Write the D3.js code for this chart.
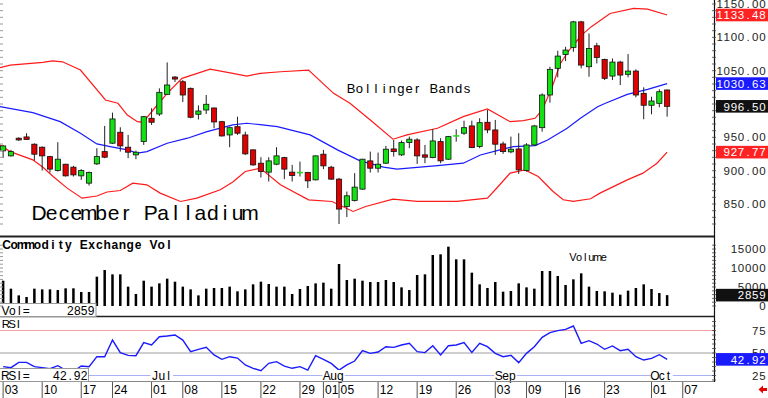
<!DOCTYPE html>
<html>
<head>
<meta charset="utf-8">
<script src="https://cdn.jsdelivr.net/npm/d3@7"></script>
<style>
  body { margin: 0; background: #fff; }
  svg { display: block; }
  text { font-family: "Liberation Sans", Arial, sans-serif; }
</style>
</head>
<body>
<svg id="chart" width="768" height="398"></svg>
<script>
// daily candles, Jun 3 .. Oct 3 (trading days)
const opens = [929.7,922.2,948.7,950.6,939.7,935.2,921.1,900.2,909.7,905.2,
  892.2,881.3,910.2,928.6,941.2,957.6,935.2,923.7,943.6,978.6,
  985.0,1014.5,1040.4,1033.4,1023.5,984.6,991.0,994.0,973.5,953.6,
  966.0,953.6,931.2,911.2,897.8,909.7,919.6,897.8,896.7,897.2,
  886.2,924.7,905.2,887.3,846.3,855.3,872.3,914.7,903.7,911.2,
  932.6,923.7,942.1,946.1,923.7,919.6,943.6,917.2,951.4,956.2,
  967.1,936.1,972.6,961.1,940.1,928.2,932.6,900.2,938.6,964.5,
  1013.5,1053.5,1074.4,1084.9,1123.2,1055.9,1087.3,1066.9,1041.9,1062.9,
  1044.5,1049.4,1016.0,998.1,1001.0,1021.0];
const highs = [938.6,931.2,950.2,956.2,940.9,936.4,922.2,942.7,910.2,907.2,
  902.3,898.7,933.7,967.1,987.0,965.1,953.6,930.1,982.0,993.6,
  1023.5,1062.4,1041.9,1035.9,1024.7,997.8,1013.5,994.8,974.6,966.0,
  981.0,958.5,931.9,920.2,920.2,935.2,920.7,908.7,913.6,898.2,
  922.9,931.2,907.2,889.2,868.7,896.3,917.7,928.6,927.1,937.1,
  946.1,945.1,951.1,948.7,938.6,962.1,948.7,952.1,962.1,975.0,
  975.0,978.6,991.0,976.1,943.6,951.1,956.2,941.2,968.6,1016.0,
  1055.9,1079.8,1085.8,1124.7,1124.7,1105.8,1091.8,1068.1,1068.4,1064.8,
  1074.9,1052.0,1025.0,1010.9,1022.0,1021.7];
const lows = [919.2,921.1,944.6,946.1,915.1,900.2,897.2,898.7,891.2,891.2,
  886.2,877.7,908.7,918.7,940.1,928.6,918.7,917.2,938.6,968.6,
  982.0,1013.5,1033.0,1003.0,978.6,976.8,985.0,963.6,951.1,935.2,
  953.6,923.7,907.2,889.7,883.7,908.2,887.3,883.7,891.2,873.8,
  885.5,902.3,886.2,819.9,830.4,853.8,871.3,897.2,897.2,910.2,
  921.1,922.2,933.7,910.2,911.2,918.7,911.2,916.2,943.6,953.6,
  933.7,933.7,956.2,923.7,925.2,926.2,895.2,898.7,937.6,958.5,
  1002.0,1040.0,1064.4,1078.3,1053.5,1040.9,1060.9,1035.9,1035.9,1028.5,
  1040.0,1010.0,977.1,984.6,995.1,981.0];
const closes = [937.1,928.6,946.1,946.9,924.7,922.2,902.3,917.2,892.2,893.7,
  900.2,897.2,921.1,920.2,977.6,937.1,927.7,927.7,981.0,972.6,
  1017.5,1028.5,1037.4,1013.5,980.1,989.5,999.6,973.1,952.1,964.5,
  956.2,925.2,908.7,898.7,914.7,922.2,902.3,892.7,897.5,884.7,
  922.2,907.2,887.3,842.4,862.3,875.3,917.2,903.7,909.7,932.2,
  928.6,942.1,947.2,922.2,920.2,944.6,914.7,951.1,952.9,964.5,
  934.6,972.0,961.1,939.7,928.6,932.2,901.2,938.6,967.1,1013.5,
  1052.0,1071.9,1080.9,1123.2,1058.4,1083.4,1069.9,1038.5,1062.9,1043.4,
  1049.4,1013.5,998.1,1004.5,1018.4,996.5];

const volumes = [6660,4560,2800,2370,4560,4380,4380,4200,4650,4650,
  3680,3680,7720,9470,8330,8330,5090,3160,6660,5090,
  5960,7190,6400,5090,4380,2800,4560,4740,4740,5090,
  3860,4380,5700,6400,5790,5090,5090,3160,4470,5260,
  5960,6140,4560,11050,6840,7190,6660,6320,6320,6840,
  6320,4910,4200,8160,8330,13420,13600,15610,12280,12280,
  8770,5700,4740,6320,3770,3950,5960,4910,4560,9210,
  9210,7890,5530,7020,8600,5090,3950,3860,3510,2980,
  4040,4740,5700,4470,3420,2859];

const rsi = [34.8,33.7,39.6,39.6,34.8,33.7,32.6,35.9,31.0,29.3,
  35.5,34.8,45.9,45.9,64.4,50.4,47.4,47.0,61.5,58.9,
  68.1,68.9,70.0,64.4,51.5,54.1,56.3,47.8,43.0,45.9,
  44.4,36.7,33.0,30.4,38.5,40.4,35.5,33.0,34.8,31.0,
  47.0,43.0,38.5,31.0,36.7,41.1,52.6,49.6,51.1,57.0,
  56.3,58.9,60.7,51.5,50.4,58.1,47.8,58.1,58.9,61.5,
  50.7,60.7,57.0,49.6,45.9,47.4,39.3,49.6,57.0,67.4,
  72.6,74.8,76.3,80.0,60.7,63.7,60.0,54.1,57.8,52.6,
  54.1,45.9,42.2,44.1,48.1,42.92];

// bollinger bands as [day index, price]
const upperBand = [[-0.4,1054.4],[0.9,1058.4],[5.1,1062.4],[6.3,1064.8],[7.6,1063.3],[9.9,1050.9],
  [13.1,1006.0],[14.7,1001.1],[15.9,983.5],[17.2,973.5],[17.9,972.6],[19.2,991.0],[21.0,1016.0],
  [22.9,1038.5],[26.5,1052.4],[29.4,1046.0],[31.2,1041.9],[32.9,1046.0],[35.5,1048.4],[39.1,1050.9],
  [42.3,1016.0],[44.4,1001.1],[47.0,976.1],[49.9,947.2],[51.7,953.6],[55.6,963.6],[58.9,981.0],
  [62.0,992.5],[64.9,973.5],[66.6,975.0],[68.1,978.6],[69.0,991.0],[70.3,1026],[71.3,1060],
  [72.3,1078],[73.3,1093],[74.3,1106],[75.3,1116],[76.3,1124],[77.7,1135.8],[80.7,1143.3],
  [82.5,1142.2],[85,1133.48]];
const middleBand = [[-0.4,996.0],[3.8,987.0],[7.3,973.5],[9.9,956.2],[12.0,940.1],[13.7,936.1],
  [15.9,931.2],[17.2,926.2],[18.4,928.6],[21.0,941.2],[23.6,948.7],[26.1,958.5],[29.4,968.6],
  [31.2,971.1],[32.9,969.0],[35.1,966.0],[39.3,953.6],[42.8,931.2],[45.7,914.7],[48.7,905.2],
  [50.4,902.3],[55.6,907.7],[58.9,911.2],[61.1,923.5],[63.6,931.2],[65.3,936.1],[68.1,937.6],
  [69.7,946.1],[72.2,963.6],[73.9,978.6],[76.1,996.0],[77.1,1001.1],[79.9,1014.5],[82.5,1022.0],
  [85.0,1030.63]];
const lowerBand = [[-0.4,938.6],[0.9,928.6],[3.8,916.2],[5.1,905],[6.4,891.2],[8.2,873.8],
  [10.1,858.8],[12.0,862],[13.3,868],[15.0,870.2],[16.6,881.3],[18.4,878.8],[20.1,866.3],
  [22.7,853.8],[24.8,858.8],[27.8,871.3],[29.4,883],[31.0,898.7],[32.9,903.8],[35.5,878.8],
  [39.1,856.3],[42.1,853.8],[44.8,838.8],[46.4,846.3],[49.9,857.3],[53.0,853.8],[58.1,853.8],
  [62.0,858.8],[63.2,874],[64.9,896.3],[66.8,901.2],[68.5,891.2],[70.4,868.8],[71.7,856.3],
  [73.0,853.8],[75.2,857.8],[76.4,866.3],[79.9,886.2],[81.9,896.3],[83.7,911.2],[85.0,927.77]];

const dateIdx = [0,5,10,14,19,23,28,33,38,41,43,48,53,58,63,67,72,77,83,87];
const dateLabels = ['03','10','17','24','01','08','15','22','29','01','05','12','19','26','03','09','16','23','01','07'];
const monthIdx = [19,41,63,83];
const monthLabels = ['Jul','Aug','Sep','Oct'];

const priceTicks = [850,900,950,1000,1050,1100,1150];
const volTicks = [0,5000,10000,15000];
const rsiTicks = [25,50,75];

// ---------------------------------------------------------------
const plotRight = 714;
const svg = d3.select('#chart');

const x = d3.scaleLinear().domain([-0.4, 91]).range([0, plotRight]);
const yP = d3.scaleLinear().domain([850, 1150]).range([204, 4]);
const yV = d3.scaleLinear().domain([0, 15000]).range([306, 249]);
const yR = d3.scaleLinear().domain([25, 75]).range([375.5, 330.5]);

// text with a fixed advance per character
function mono(g, str, x0, y0, adv, anchor) {
  const n = str.length;
  const t = g.append('text').attr('y', y0).attr('text-anchor', 'middle');
  t.selectAll('tspan').data(str.split('')).join('tspan')
    .attr('x', (c, k) => anchor === 'end' ? x0 - adv * (n - k - 0.5) : x0 + adv * (k + 0.5))
    .text(c => c);
  return t;
}

const defs = svg.append('defs');
defs.append('clipPath').attr('id', 'clipPrice').append('rect')
  .attr('x', 0).attr('y', 0).attr('width', plotRight).attr('height', 236);
defs.append('clipPath').attr('id', 'clipRsi').append('rect')
  .attr('x', 0).attr('y', 317).attr('width', plotRight).attr('height', 64);

// ---- price panel
const gPrice = svg.append('g').attr('clip-path', 'url(#clipPrice)');

const bandLine = d3.line().x(d => x(d[0])).y(d => yP(d[1]));
gPrice.append('path').attr('d', bandLine(upperBand)).attr('fill', 'none').attr('stroke', '#ff1a1a').attr('stroke-width', 1.2);
gPrice.append('path').attr('d', bandLine(lowerBand)).attr('fill', 'none').attr('stroke', '#ff1a1a').attr('stroke-width', 1.2);
gPrice.append('path').attr('d', bandLine(middleBand)).attr('fill', 'none').attr('stroke', '#1a1aff').attr('stroke-width', 1.2);

const candle = gPrice.selectAll('g.candle').data(d3.range(opens.length)).join('g').attr('class', 'candle');
candle.append('line')
  .attr('x1', i => x(i)).attr('x2', i => x(i))
  .attr('y1', i => yP(highs[i])).attr('y2', i => yP(lows[i]))
  .attr('stroke', '#222').attr('stroke-width', 1);
candle.each(function(i) {
  const g = d3.select(this);
  const up = closes[i] >= opens[i];
  const top = yP(Math.max(opens[i], closes[i]));
  const h = Math.abs(yP(opens[i]) - yP(closes[i]));
  if (h < 1.2) {
    g.append('line').attr('x1', x(i) - 3).attr('x2', x(i) + 3)
      .attr('y1', top + h / 2).attr('y2', top + h / 2)
      .attr('stroke', '#22dd22').attr('stroke-width', 1.6);
  } else {
    g.append('rect').attr('x', x(i) - 2.6).attr('y', top).attr('width', 5.2).attr('height', h)
      .attr('fill', up ? '#14e014' : '#e00000').attr('stroke', '#111').attr('stroke-width', 0.8);
  }
});

const tPal = mono(svg, 'December Palladium', 33, 220, 12.4, 'start');
tPal.attr('font-size', 21).attr('fill', '#000');
mono(svg, 'Bollinger Bands', 347, 93, 8.27, 'start').attr('font-size', 13).attr('fill', '#000');

// ---- volume panel
svg.selectAll('rect.vol').data(volumes).join('rect').attr('class', 'vol')
  .attr('x', (d, i) => x(i) - 1.25).attr('width', 2.5)
  .attr('y', d => yV(d)).attr('height', d => yV(0) - yV(d))
  .attr('fill', '#000');
mono(svg, 'Commodity Exchange Vol', 2.7, 248.5, 7.73, 'start')
  .attr('font-size', 12).attr('font-weight', 'bold').attr('fill', '#000');
mono(svg, 'Volume', 569.7, 261, 6.2, 'start').attr('font-size', 11).attr('fill', '#000');

// ---- RSI panel
const gRsi = svg.append('g').attr('clip-path', 'url(#clipRsi)');
gRsi.append('line').attr('x1', 0).attr('x2', plotRight).attr('y1', yR(75)).attr('y2', yR(75))
  .attr('stroke', '#f3a3a3').attr('stroke-width', 1);
gRsi.append('line').attr('x1', 0).attr('x2', plotRight).attr('y1', yR(50)).attr('y2', yR(50))
  .attr('stroke', '#cfcfcf').attr('stroke-width', 2);
gRsi.append('line').attr('x1', 0).attr('x2', plotRight).attr('y1', yR(25)).attr('y2', yR(25))
  .attr('stroke', '#aab2f5').attr('stroke-width', 1);
gRsi.append('path')
  .attr('d', d3.line().x((d, i) => x(i)).y(d => yR(d))(rsi))
  .attr('fill', 'none').attr('stroke', '#1a1aff').attr('stroke-width', 1.4);
mono(svg, 'RSI', 2.7, 327.5, 6.3, 'start').attr('font-size', 11.5).attr('fill', '#000');

monthIdx.forEach((m, k) => {
  svg.append('rect').attr('x', x(m) - 1).attr('y', 370).attr('width', monthLabels[k].length * 6.8 + 2)
    .attr('height', 11).attr('fill', '#fff');
  mono(svg, monthLabels[k], x(m), 380, 6.8, 'start').attr('font-size', 12).attr('fill', '#000');
});

// ---- panel separators
svg.append('line').attr('x1', 0).attr('x2', plotRight).attr('y1', 236.5).attr('y2', 236.5)
  .attr('stroke', '#222').attr('stroke-width', 2);
svg.append('line').attr('x1', 0).attr('x2', plotRight).attr('y1', 316.5).attr('y2', 316.5)
  .attr('stroke', '#222').attr('stroke-width', 1.5);
svg.append('line').attr('x1', 0).attr('x2', plotRight).attr('y1', 381.5).attr('y2', 381.5)
  .attr('stroke', '#888').attr('stroke-width', 1);

// value boxes on the left
svg.append('rect').attr('x', -1).attr('y', 303.5).attr('width', 97).attr('height', 13)
  .attr('fill', '#fff').attr('stroke', '#999');
mono(svg, 'Vol=', 2, 314.5, 6.9, 'start').attr('font-size', 12).attr('fill', '#000');
mono(svg, String(volumes[volumes.length - 1]), 94.5, 314.5, 6.9, 'end').attr('font-size', 12).attr('fill', '#000');
svg.append('rect').attr('x', -1).attr('y', 368.5).attr('width', 89.5).attr('height', 13)
  .attr('fill', '#fff').attr('stroke', '#999');
mono(svg, 'RSI=', 2, 379.5, 6.9, 'start').attr('font-size', 12).attr('fill', '#000');
mono(svg, rsi[rsi.length - 1].toFixed(2), 87.5, 379.5, 6.9, 'end').attr('font-size', 12).attr('fill', '#000');

// ---- date axis
dateIdx.forEach((d, k) => {
  svg.append('line').attr('x1', x(d)).attr('x2', x(d)).attr('y1', 382).attr('y2', 398)
    .attr('stroke', '#555').attr('stroke-width', 1);
  mono(svg, dateLabels[k], x(d) + 1.5, 393.5, 6.8, 'start').attr('font-size', 12).attr('fill', '#000');
});

// ---- left edge minor ticks
const gEdge = svg.append('g').attr('stroke', '#999').attr('stroke-width', 1);
d3.range(820, 1160, 10).forEach(v => {
  gEdge.append('line').attr('x1', 0).attr('x2', 3).attr('y1', yP(v)).attr('y2', yP(v));
});
d3.range(0, 17000, 1000).forEach(v => {
  if (yV(v) > 239) gEdge.append('line').attr('x1', 0).attr('x2', 3).attr('y1', yV(v)).attr('y2', yV(v));
});

// ---- right axis
const gAxis = svg.append('g');
gAxis.append('line').attr('x1', plotRight + 0.5).attr('x2', plotRight + 0.5).attr('y1', 0).attr('y2', 382)
  .attr('stroke', '#111').attr('stroke-width', 1.2);
d3.range(820, 1160, 10).forEach(v => {
  gAxis.append('line').attr('x1', plotRight - 2).attr('x2', plotRight + 2).attr('y1', yP(v)).attr('y2', yP(v))
    .attr('stroke', '#444').attr('stroke-width', 0.8);
});
d3.range(0, 17000, 1000).forEach(v => {
  if (yV(v) > 239) gAxis.append('line').attr('x1', plotRight - 2).attr('x2', plotRight + 2).attr('y1', yV(v)).attr('y2', yV(v))
    .attr('stroke', '#444').attr('stroke-width', 0.8);
});
d3.range(20, 95, 5).forEach(v => {
  if (yR(v) > 318 && yR(v) < 381) gAxis.append('line').attr('x1', plotRight - 2).attr('x2', plotRight + 2).attr('y1', yR(v)).attr('y2', yR(v))
    .attr('stroke', '#444').attr('stroke-width', 0.8);
});

const lab = (str, y, fill) => mono(gAxis, str, 766, y + 4, 7.14, 'end').attr('font-size', 11.5).attr('fill', fill);
priceTicks.forEach(v => lab(v.toFixed(2), yP(v), '#222'));
volTicks.forEach(v => lab(String(v), yV(v), '#222'));
rsiTicks.forEach(v => lab(String(v), yR(v), '#222'));

function valueBox(v, yy, fill, str) {
  gAxis.append('rect').attr('x', 716).attr('y', yy - 6.3).attr('width', 52).attr('height', 12.6).attr('fill', fill);
  mono(gAxis, str, 766, yy + 4.2, 7.14, 'end').attr('font-size', 11.5).attr('fill', '#fff');
}
const lastUpper = upperBand[upperBand.length - 1][1];
const lastMid = middleBand[middleBand.length - 1][1];
const lastLow = lowerBand[lowerBand.length - 1][1];
const lastClose = closes[closes.length - 1];
valueBox(lastUpper, yP(lastUpper), '#ff2222', lastUpper.toFixed(2));
valueBox(lastMid, yP(lastMid), '#1a1aff', lastMid.toFixed(2));
valueBox(lastClose, yP(lastClose), '#111', lastClose.toFixed(2));
valueBox(lastLow, yP(lastLow), '#ff2222', lastLow.toFixed(2));
valueBox(0, yV(volumes[volumes.length - 1]), '#111', String(volumes[volumes.length - 1]));
valueBox(0, yR(rsi[rsi.length - 1]), '#1a1aff', rsi[rsi.length - 1].toFixed(2));

// red arrow bottom right
svg.append('path')
  .attr('d', 'M758.5,389.5 L763,385.5 L763,388 L767,388 L767,391 L763,391 L763,393.5 Z')
  .attr('fill', '#e00000');
</script>
</body>
</html>
